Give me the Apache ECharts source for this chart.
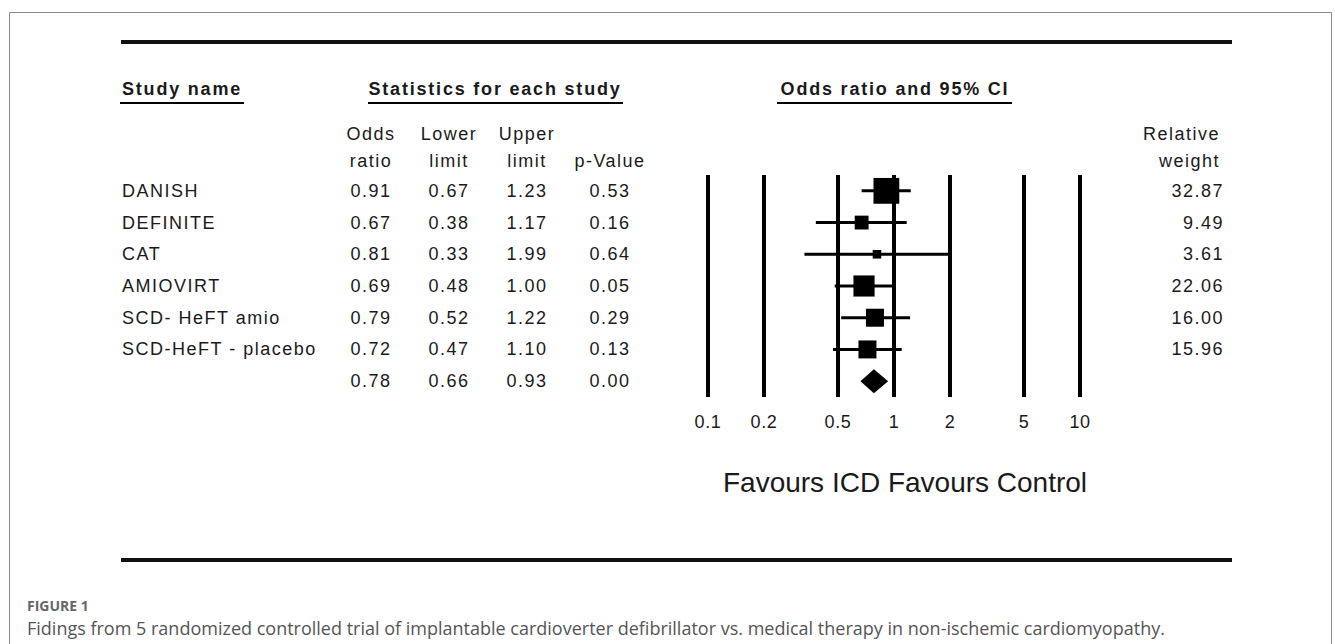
<!DOCTYPE html>
<html>
<head>
<meta charset="utf-8">
<script src="https://cdn.jsdelivr.net/npm/echarts@6/dist/echarts.min.js"></script>
<style>
html,body{margin:0;padding:0;background:#fff;}
#chart{width:1335px;height:644px;}
</style>
</head>
<body>
<div id="chart"></div>
<script>
// ---------------- data ----------------
const studyNames = ['DANISH', 'DEFINITE', 'CAT', 'AMIOVIRT', 'SCD- HeFT amio', 'SCD-HeFT - placebo', ''];
const oddsRatio  = [0.91, 0.67, 0.81, 0.69, 0.79, 0.72, 0.78];
const lowerLimit = [0.67, 0.38, 0.33, 0.48, 0.52, 0.47, 0.66];
const upperLimit = [1.23, 1.17, 1.99, 1.00, 1.22, 1.10, 0.93];
const pValue     = [0.53, 0.16, 0.64, 0.05, 0.29, 0.13, 0.00];
const relWeight  = [32.87, 9.49, 3.61, 22.06, 16.00, 15.96, null];
const tickValues = [0.1, 0.2, 0.5, 1, 2, 5, 10];
const tickLabels = ['0.1', '0.2', '0.5', '1', '2', '5', '10'];

// headers / texts
const headerStudy = 'Study name';
const headerStats = 'Statistics for each study';
const headerForest = 'Odds ratio and 95% CI';
const subOR = ['Odds', 'ratio'];
const subLo = ['Lower', 'limit'];
const subUp = ['Upper', 'limit'];
const subP = ['', 'p-Value'];
const subW = ['Relative', 'weight'];
const xTitle = 'Favours ICD Favours Control';
const figLabel = 'FIGURE 1';
const figCaption = 'Fidings from 5 randomized controlled trial of implantable cardioverter defibrillator vs. medical therapy in non-ischemic cardiomyopathy.';

// ---------------- layout ----------------
const FAM = 'Liberation Sans, Arial, sans-serif';
const CAP_FAM = 'Open Sans, Noto Sans, sans-serif';
const TEXT = '#1a1a1a';
const GRID_LEFT = 708, GRID_RIGHT_X = 1080, GRID_TOP = 175, GRID_BOTTOM_Y = 397;
const COL_NAME_X = 122, COL_OR_X = 371, COL_LO_X = 449, COL_UP_X = 527, COL_P_X = 610, COL_W_X = 1224, HEAD_W_X = 1220;
const SUB_Y1 = 134, SUB_Y2 = 161, HEAD_Y = 89, UNDER_Y = 103;

const rowIds = studyNames.map((_, i) => String(i));
const fmt2 = v => (v == null ? '' : v.toFixed(2));

function colAxis(pos, anchorX, align, getText) {
  const offset = pos === 'left' ? GRID_LEFT - anchorX : anchorX - GRID_RIGHT_X;
  return {
    type: 'category', data: rowIds, inverse: true, position: pos, offset: offset,
    axisLine: {show: false}, axisTick: {show: false}, splitLine: {show: false},
    axisLabel: {
      interval: 0, margin: 0, align: align,
      formatter: (v, i) => getText(i),
      color: TEXT, fontSize: 18, fontFamily: FAM
    }
  };
}

const ciData = studyNames.map((_, i) => [i, oddsRatio[i], lowerLimit[i], upperLimit[i], relWeight[i] == null ? -1 : relWeight[i]]);
const boxData = [];
studyNames.forEach((_, i) => { if (relWeight[i] != null) boxData.push([oddsRatio[i], i, relWeight[i]]); });

function txt(text, x, y, align, font, fill) {
  return {type: 'text', x: x, y: y, silent: true,
    style: {text: text, textAlign: align, textVerticalAlign: 'middle', font: font, fill: fill || TEXT}};
}
function hline(x1, x2, y, w, color) {
  return {type: 'line', silent: true, shape: {x1: x1, y1: y, x2: x2, y2: y}, style: {stroke: color || '#000', lineWidth: w}};
}
const HB = 'bold 18px ' + FAM;
const HN = '18px ' + FAM;

const graphics = [
  {type: 'rect', silent: true, shape: {x: 9.5, y: 12.5, width: 1322, height: 700}, style: {fill: 'none', stroke: '#8a8a8a', lineWidth: 1}},
  hline(121, 1232, 42, 4, '#111'),
  hline(121, 1232, 560, 4, '#111'),
  txt(headerStudy, COL_NAME_X, HEAD_Y, 'left', HB),
  hline(120, 244, UNDER_Y, 2),
  txt(headerStats, 495, HEAD_Y, 'center', HB),
  hline(368, 623, UNDER_Y, 2),
  txt(headerForest, 895, HEAD_Y, 'center', HB),
  hline(777, 1012, UNDER_Y, 2),
  txt(subOR[0], COL_OR_X, SUB_Y1, 'center', HN), txt(subOR[1], COL_OR_X, SUB_Y2, 'center', HN),
  txt(subLo[0], COL_LO_X, SUB_Y1, 'center', HN), txt(subLo[1], COL_LO_X, SUB_Y2, 'center', HN),
  txt(subUp[0], COL_UP_X, SUB_Y1, 'center', HN), txt(subUp[1], COL_UP_X, SUB_Y2, 'center', HN),
  txt(subP[0], COL_P_X, SUB_Y1, 'center', HN), txt(subP[1], COL_P_X, SUB_Y2, 'center', HN),
  txt(subW[0], HEAD_W_X, SUB_Y1, 'right', HN), txt(subW[1], HEAD_W_X, SUB_Y2, 'right', HN),
  txt(xTitle, 905, 482, 'center', '28px ' + FAM),
  txt(figLabel, 27, 605, 'left', 'bold 14px ' + CAP_FAM, '#666'),
  txt(figCaption, 27, 628, 'left', '18px ' + CAP_FAM, '#555')
];

const option = {
  animation: false,
  backgroundColor: '#fff',
  grid: {left: GRID_LEFT, top: GRID_TOP, width: GRID_RIGHT_X - GRID_LEFT, height: GRID_BOTTOM_Y - GRID_TOP},
  xAxis: {type: 'log', logBase: 10, min: 0.1, max: 10, show: false},
  yAxis: [
    {type: 'category', data: rowIds, inverse: true, show: false},
    colAxis('left', COL_NAME_X, 'left', i => studyNames[i]),
    colAxis('left', COL_OR_X, 'center', i => fmt2(oddsRatio[i])),
    colAxis('left', COL_LO_X, 'center', i => fmt2(lowerLimit[i])),
    colAxis('left', COL_UP_X, 'center', i => fmt2(upperLimit[i])),
    colAxis('left', COL_P_X, 'center', i => fmt2(pValue[i])),
    colAxis('right', COL_W_X, 'right', i => fmt2(relWeight[i]))
  ],
  series: [
    {
      type: 'custom', name: 'ref', clip: false, z: 1,
      data: tickValues.map(v => [v, 0]),
      encode: {x: 0, y: 1},
      renderItem: function (params, api) {
        const x = api.coord([api.value(0), 0])[0];
        const cs = params.coordSys;
        return {type: 'group', children: [
          {type: 'line', shape: {x1: x, y1: cs.y, x2: x, y2: cs.y + cs.height}, style: {stroke: '#000', lineWidth: 4}},
          {type: 'text', x: x, y: cs.y + cs.height + 25,
            style: {text: tickLabels[params.dataIndex], textAlign: 'center', textVerticalAlign: 'middle', font: '18px ' + FAM, fill: TEXT}}
        ]};
      }
    },
    {
      type: 'custom', name: 'ci', clip: false, z: 2,
      data: ciData,
      encode: {x: [1, 2, 3], y: 0},
      renderItem: function (params, api) {
        const row = api.value(0);
        const pOR = api.coord([api.value(1), row]);
        const pLo = api.coord([api.value(2), row]);
        const pUp = api.coord([api.value(3), row]);
        if (api.value(4) >= 0) {
          return {type: 'line', shape: {x1: pLo[0], y1: pLo[1], x2: pUp[0], y2: pUp[1]}, style: {stroke: '#000', lineWidth: 3}};
        }
        const h = 12;
        return {type: 'polygon', shape: {points: [[pLo[0], pOR[1]], [pOR[0], pOR[1] - h], [pUp[0], pOR[1]], [pOR[0], pOR[1] + h]]}, style: {fill: '#000'}};
      }
    },
    {
      type: 'scatter', name: 'box', z: 3,
      data: boxData,
      symbol: 'rect',
      symbolSize: v => 4.5 * Math.sqrt(v[2]),
      itemStyle: {color: '#000', opacity: 1},
      emphasis: {disabled: true}
    }
  ],
  graphic: graphics
};

const chart = echarts.init(document.getElementById('chart'), null, {renderer: 'svg'});
chart.setOption(option);

// letter spacing like the original typesetting (not for caption / axis title)
const boldHeads = [headerStudy, headerStats, headerForest];
const noSpace = [figCaption, figLabel, xTitle];
function applySpacing() {
  document.querySelectorAll('#chart text').forEach(function (t) {
    const s = t.textContent;
    let ls = '1.5px';
    if (noSpace.indexOf(s) >= 0) ls = '0px';
    else if (boldHeads.indexOf(s) >= 0) ls = '1.8px';
    else if (tickLabels.indexOf(s) >= 0) ls = '0.6px';
    t.style.letterSpacing = ls;
    t.setAttribute('letter-spacing', ls);
  });
}
applySpacing();
chart.on('finished', applySpacing);
setTimeout(applySpacing, 50);
</script>
</body>
</html>
